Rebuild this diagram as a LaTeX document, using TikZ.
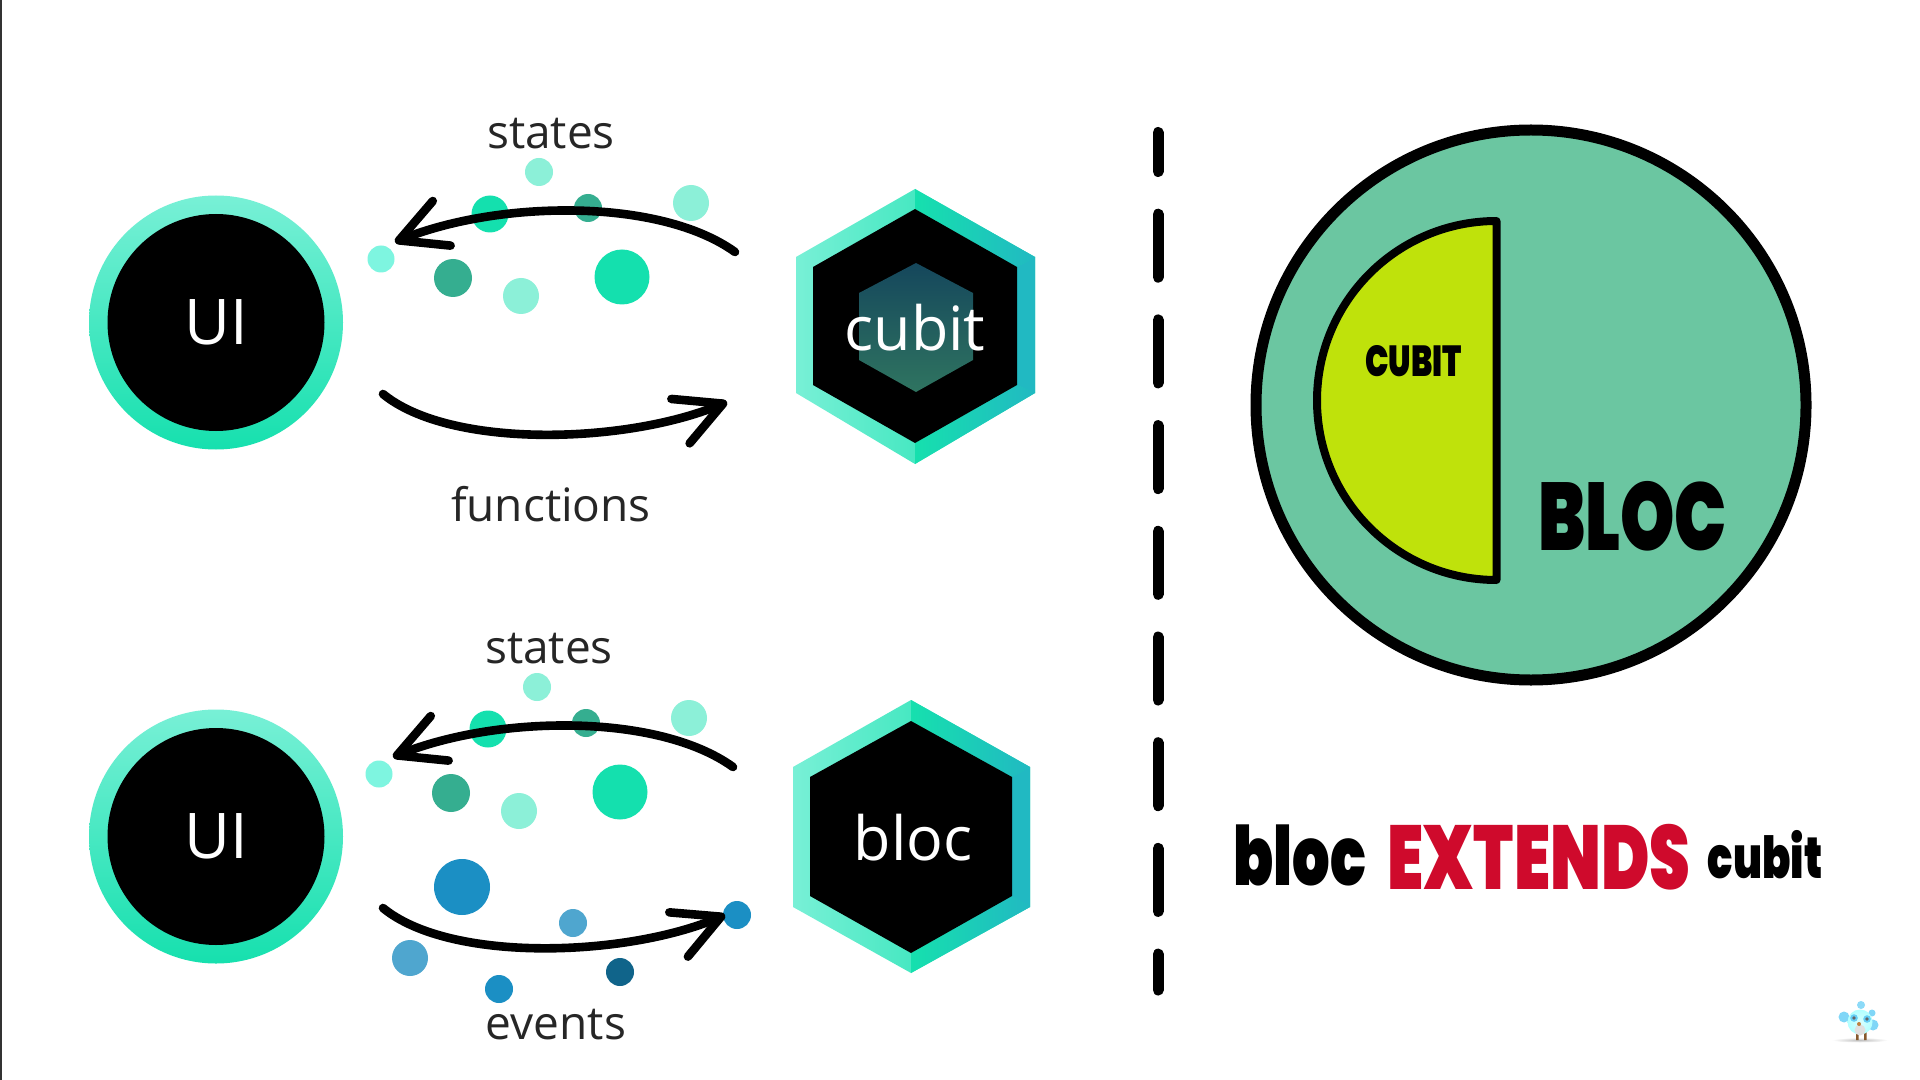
\documentclass[tikz,border=0pt]{standalone}
\usepackage{fontspec}
\usetikzlibrary{arrows.meta}
\setmainfont{Open Sans}
\newfontfamily\heavy[FakeStretch=0.72]{Poppins Black}
\definecolor{ringPale}{HTML}{78F0D6}
\definecolor{ringB}{HTML}{16E0AE}
\definecolor{ringT}{HTML}{21B9C2}
\definecolor{ringC}{HTML}{1A96CB}
\definecolor{dotLight}{HTML}{8CF0D8}
\definecolor{dotVivid}{HTML}{14E0AE}
\definecolor{dotDark}{HTML}{35AE90}
\definecolor{dotPale}{HTML}{7EF5E0}
\definecolor{evBlue}{HTML}{1B8FC4}
\definecolor{evLight}{HTML}{4FA6CF}
\definecolor{evDark}{HTML}{10648A}
\definecolor{greenDisc}{HTML}{6BC6A1}
\definecolor{limeDisc}{HTML}{BFE20B}
\definecolor{redText}{HTML}{CF0A2C}
\definecolor{labelInk}{HTML}{262626}
\definecolor{innerTop}{HTML}{15475C}
\definecolor{innerBot}{HTML}{2F7460}
\tikzset{
  x=0.5pt,y=-0.5pt,
  uicircle/.style={circle,fill=black,minimum size=108.5pt,inner sep=0pt,text=white,font=\fontsize{31.5}{32}\selectfont},
  uiring/.style={top color=ringPale,bottom color=ringB},
  hexlabel/.style={text=white,font=\fontsize{30.5}{31}\selectfont,inner sep=0pt},
  flowlabel/.style={text=labelInk,font=\fontsize{23}{24}\selectfont,inner sep=0pt},
  dotfill/.style={circle,inner sep=0pt,fill=#1},
  flow/.style={line width=4.3pt,line cap=round,-{Straight Barb[length=23pt,width=24pt,round]}},
  bigdash/.style={line width=5.5pt,line cap=round,dash pattern=on 31.5pt off 21.35pt,dash phase=12pt},
  heavytext/.style={inner sep=0pt,font=\heavy\fontsize{#1}{#1}\selectfont},
}
\newcommand{\dotat}[5]{\node[dotfill=#4,minimum size=#3pt] (#5) at (#1,#2) {};}
\begin{document}
\begin{tikzpicture}
\useasboundingbox (0,0) rectangle (1920,1080);
\fill[white] (0,0) rectangle (1920,1080);
\fill[black!80] (0,0) rectangle (2,1080);

% circles
\shade[uiring] (216,322.5) circle[radius=127];
\shade[uiring] (216,836.5) circle[radius=127];
\node[uicircle] (ui1) at (216,322.5) {UI};
\node[uicircle] (ui2) at (216,836.5) {UI};

% cubit hex
\shade[left color=ringPale,middle color=ringB,right color=ringB]
  (915,189) -- (1035,257) -- (1035,393) -- (915,464) -- (796,393) -- (796,257) -- cycle;
\shade[left color=ringB,middle color=ringB,right color=ringT]
  (915,189) -- (1035,257) -- (1017,267) -- (915,209) -- cycle;
\shade[left color=ringB,middle color=ringB,right color=ringT]
  (915,464) -- (1035,393) -- (1017,385) -- (915,443) -- cycle;
\shade[top color=ringT,middle color=ringC,bottom color=ringT]
  (1035,257) -- (1035,393) -- (1017,385) -- (1017,267) -- cycle;
\fill[black] (915,209) -- (1017,267) -- (1017,385) -- (915,443) -- (813,385) -- (813,267) -- cycle;
\shade[top color=innerTop,bottom color=innerBot]
  (916,263) -- (973,293) -- (973,360) -- (916,392) -- (859,360) -- (859,293) -- cycle;
\node[hexlabel] (cubit) at (915,328) {cubit};

% bloc hex
\shade[left color=ringPale,middle color=ringB,right color=ringB]
  (911,700) -- (1030,767) -- (1030,907) -- (911,973) -- (793,907) -- (793,767) -- cycle;
\shade[left color=ringB,middle color=ringB,right color=ringT]
  (911,700) -- (1030,767) -- (1012,777) -- (911,721) -- cycle;
\shade[left color=ringB,middle color=ringB,right color=ringT]
  (911,973) -- (1030,907) -- (1012,896) -- (911,953) -- cycle;
\shade[top color=ringT,middle color=ringC,bottom color=ringT]
  (1030,767) -- (1030,907) -- (1012,896) -- (1012,777) -- cycle;
\fill[black] (911,721) -- (1012,777) -- (1012,896) -- (911,953) -- (810,896) -- (810,777) -- cycle;
\node[hexlabel] (bloc) at (913,838) {bloc};

% top dots
\dotat{539}{172}{14}{dotLight}{a1}
\dotat{490}{214}{18.5}{dotVivid}{a2}
\dotat{588}{208}{14}{dotDark}{a3}
\dotat{691}{203}{18}{dotLight}{a4}
\dotat{381}{259}{13.5}{dotPale}{a5}
\dotat{453}{278}{19}{dotDark}{a6}
\dotat{521}{296}{18}{dotLight}{a7}
\dotat{622}{277}{27.5}{dotVivid}{a8}
% second states dots
\dotat{537}{687}{14}{dotLight}{b1}
\dotat{488}{729}{18.5}{dotVivid}{b2}
\dotat{586}{723}{14}{dotDark}{b3}
\dotat{689}{718}{18}{dotLight}{b4}
\dotat{379}{774}{13.5}{dotPale}{b5}
\dotat{451}{793}{19}{dotDark}{b6}
\dotat{519}{811}{18}{dotLight}{b7}
\dotat{620}{792}{27.5}{dotVivid}{b8}
% event dots
\dotat{462}{887}{28}{evBlue}{c1}
\dotat{573}{923}{14}{evLight}{c2}
\dotat{410}{958}{18}{evLight}{c3}
\dotat{499}{989}{14}{evBlue}{c4}
\dotat{620}{972}{14}{evDark}{c5}
\dotat{737}{915}{14}{evBlue}{c6}

% connector ends
\coordinate (s1a) at (735,252);
\coordinate (s1b) at (395,242);
\coordinate (f1a) at (383,394);
\coordinate (f1b) at (727,402);
\coordinate (s2a) at (733,767);
\coordinate (s2b) at (393,757);
\coordinate (e2a) at (383,908);
\coordinate (e2b) at (725,915);
\draw[flow] (s1a) .. controls (660,198) and (500,200) .. (s1b);
\draw[flow] (f1a) .. controls (450,449) and (625,444) .. (f1b);
\draw[flow] (s2a) .. controls (658,713) and (498,715) .. (s2b);
\draw[flow] (e2a) .. controls (450,963) and (625,957) .. (e2b);

% labels
\node[flowlabel] (st1) at (551,134) {states};
\node[flowlabel] (fn1) at (551,504) {functions};
\node[flowlabel] (st2) at (549,649) {states};
\node[flowlabel] (ev2) at (556,1025) {events};

% divider
\coordinate (d1) at (1158,132.5);
\coordinate (d2) at (1158,990);
\draw[bigdash] (d1) -- (d2);

% right disc
\node[circle,fill=greenDisc,draw=black,line width=5.5pt,minimum size=275pt,inner sep=0pt] (disc) at (1531,405) {};
\filldraw[fill=limeDisc,draw=black,line width=4pt,line join=round] (1496.5,221) arc[start angle=-90,end angle=-270,x radius=179.5,y radius=179.5] -- cycle;
\node[heavytext=21.7] (cub) at (1413.5,361.5) {CUBIT};
\node[heavytext=48] (blc) at (1632.5,516) {BLOC};

% bottom text
\node[heavytext=41] (t1) at (1300,855) {bloc};
\node[heavytext=45.3,text=redText] (t2) at (1539,857) {EXTENDS};
\node[heavytext=29] (t3) at (1765,855) {cubit};

% mascot
\shade[inner color=black!25,outer color=white] (1860,1040) ellipse [x radius=28,y radius=2.5];
\fill[brown!70!black] (1856,1030) rectangle (1858.5,1040) (1864,1030) rectangle (1866.5,1040);
\fill[cyan!45] (1861,1005) circle (4);
\fill[cyan!50] (1844,1017) circle (5.5) (1873,1025) circle (5.5) (1872,1013) circle (3.5);
\shade[inner color=cyan!15,outer color=cyan!30] (1860,1022) circle (12.5);
\fill[black!12] (1860,1030) circle (5.5);
\fill[cyan!60] (1854,1018) circle (3.8) (1867,1019) circle (3.8);
\fill[black!60] (1854,1018) circle (1.9) (1867,1019) circle (1.9);
\fill[brown] (1859,1024) circle (2);
\end{tikzpicture}
\end{document}
